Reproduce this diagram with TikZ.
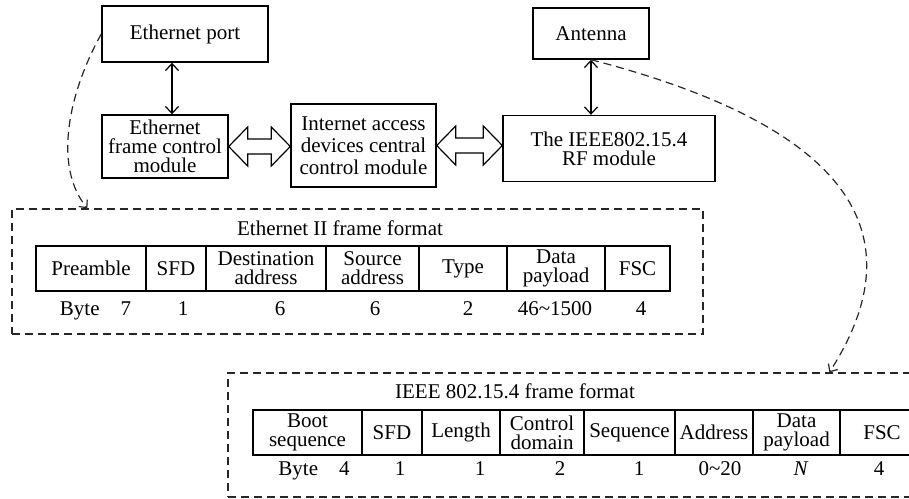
\documentclass[tikz,border=0pt]{standalone}
\usepackage{fontspec}
\setmainfont{Liberation Serif}
\usetikzlibrary{positioning,calc,arrows.meta}
\newcommand{\fatlink}[2]{%
  \draw[fat] (#1) -- ++(19,-19.5) -- ++(0,12) -- ($(#2)+(-19,-7.5)$) -- ++(0,-12) -- (#2)
    -- ++(-19,19.5) -- ++(0,-12) -- ($(#1)+(19,7.5)$) -- ++(0,12) -- cycle;}

\begin{document}
\begin{tikzpicture}[
      x=1pt, y=-1pt,
      font=\fontsize{21}{19}\selectfont,
      module/.style={draw, line width=1.4pt, align=center, inner sep=1pt},
      cell/.style={draw, line width=1.3pt, align=center, inner sep=0pt, outer sep=0pt, minimum height=45, anchor=north west},
      frame/.style={draw=black!85, dash pattern=on 8pt off 5pt, line width=1.3pt, inner sep=0pt},
      num/.style={anchor=base},
      link/.style={<->, >={Straight Barb[length=7pt,width=13pt]}, line width=1.2pt},
      dlink/.style={->, >={Straight Barb[length=6pt,width=11pt]}, draw=black!85, dash pattern=on 8pt off 5pt, line width=1.2pt},
      fat/.style={draw, line width=1.2pt, fill=white, line join=miter}
    ]
    \useasboundingbox (0,0) rectangle (909,498);
    \clip (0,0) rectangle (909,498);

    % Modules
    \node[module, minimum width=166, minimum height=56] (eport) at (185,34) {Ethernet port};
    \node[module, minimum width=126, minimum height=63] (efcm) at (165,146.5) {Ethernet\\frame control\\module};
    \node[module, minimum width=145, minimum height=83] (central) at (363.5,145.5) {Internet access\\[3pt]devices central\\[3pt]control module};
    \node[module, minimum width=116, minimum height=51] (antenna) at (591,33.5) {Antenna};
    \node[module, minimum width=212, minimum height=66] (rf) at (609,148.5) {The IEEE802.15.4\\RF module};

    % Arrows between modules
    \draw[link] ([xshift=-13]eport.south) -- ([xshift=7]efcm.north);
    \draw[link] (antenna.south) -- (antenna.south |- rf.north);
    \fatlink{efcm.east}{efcm.east -| central.west}
    \fatlink{central.east}{central.east -| rf.west}

    % Frame boxes
    \node[frame, minimum width=691, minimum height=125] (ethframe) at (357.5,271.5) {};
    \node[frame, minimum width=702, minimum height=124] (ieeeframe) at (579,435) {};
    \node[anchor=base] (ethtitle) at (340,235) {Ethernet II frame format};
    \node[anchor=base] (ieeetitle) at (515,398) {IEEE 802.15.4 frame format};

    % Ethernet II frame
    \node[cell, minimum width=110] (pre) at (36,246) {Preamble};
    \node[cell, minimum width=60, right=0pt of pre] (esfd) {SFD};
    \node[cell, minimum width=120, right=0pt of esfd] (dst) {Destination\\address};
    \node[cell, minimum width=93, right=0pt of dst] (src) {Source\\address};
    \node[cell, minimum width=88, right=0pt of src] (etype) {Type};
    \node[cell, minimum width=98, right=0pt of etype] (epay) {Data\\payload};
    \node[cell, minimum width=65, right=0pt of epay] (efsc) {FSC};

    \node[num] (ebyte) at (95.5,315) {Byte\quad 7};
    \node[num] (nesfd) at (183,315) {1};
    \node[num] (ndst) at (280,315) {6};
    \node[num] (nsrc) at (375,315) {6};
    \node[num] (netype) at (468,315) {2};
    \node[num] (nepay) at (555,315) {46\textasciitilde 1500};
    \node[num] (nefsc) at (641,315) {4};

    % IEEE 802.15.4 frame
    \node[cell, minimum width=109] (boot) at (253,410) {Boot\\sequence};
    \node[cell, minimum width=60, right=0pt of boot] (isfd) {SFD};
    \node[cell, minimum width=78, right=0pt of isfd] (ilen) {Length};
    \node[cell, minimum width=84, right=0pt of ilen] (ictrl) {Control\\domain};
    \node[cell, minimum width=91, right=0pt of ictrl] (iseq) {Sequence};
    \node[cell, minimum width=78, right=0pt of iseq] (iaddr) {Address};
    \node[cell, minimum width=87, right=0pt of iaddr] (ipay) {Data\\payload};
    \node[cell, minimum width=84, right=0pt of ipay] (ifsc) {FSC};

    \node[num] (ibyte) at (314,475) {Byte\quad 4};
    \node[num] (nisfd) at (400,475) {1};
    \node[num] (nilen) at (480,475) {1};
    \node[num] (nictrl) at (560,475) {2};
    \node[num] (niseq) at (639,475) {1};
    \node[num] (niaddr) at (720,475) {0\textasciitilde 20};
    \node[num] (nipay) at (801,475) {\textit{N}};
    \node[num] (nifsc) at (879,475) {4};

    % Dashed links to the frame formats
    \draw[dlink] (eport.west) .. controls (70,90) and (52,165) .. ([xshift=76]ethframe.north west);
    \draw[dlink] (antenna.south) .. controls (785,110) and (940,200) .. ([xshift=602]ieeeframe.north west);

  \end{tikzpicture}
\end{document}
